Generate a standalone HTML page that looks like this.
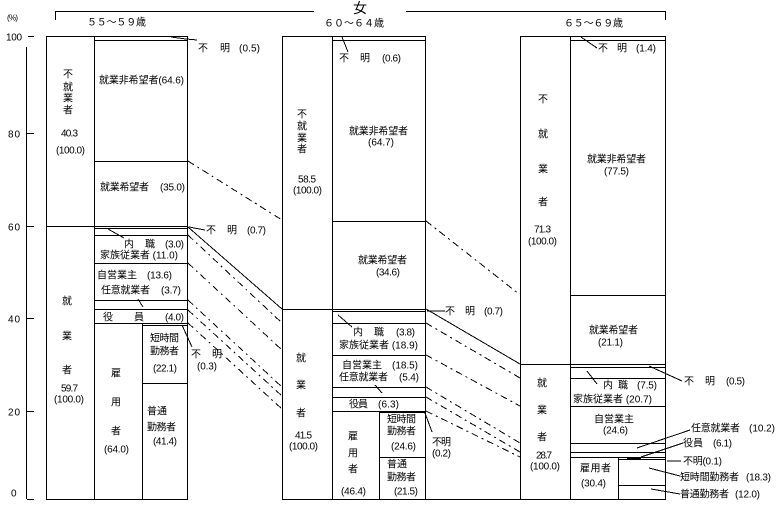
<!DOCTYPE html>
<html lang="ja"><head><meta charset="utf-8"><title>女 就業状態</title>
<style>
html,body{margin:0;padding:0;background:#fff}
svg{display:block}
text{font-family:"Liberation Sans","WenQuanYi Zen Hei","Noto Sans CJK JP",sans-serif;font-size:10px;fill:#000;dominant-baseline:central}
.m{text-anchor:middle}
.s{stroke:#000;stroke-width:1;fill:none;shape-rendering:crispEdges}
.l{stroke:#000;stroke-width:1;fill:none;shape-rendering:crispEdges}
.d{stroke:#000;stroke-width:1;fill:none;stroke-dasharray:7 4 2 4;shape-rendering:crispEdges}
</style></head><body>
<svg width="779" height="508" viewBox="0 0 779 508" xmlns="http://www.w3.org/2000/svg">
<rect width="779" height="508" fill="#fff"/>
<!-- header bracket -->
<path class="s" d="M55.5 20V11.5H314M406 11.5H665.5V20"/>
<path class="s" d="M26.5 47V499M28 36.5H34M27 133.5H34M27 226.5H34M27 318.5H34M27 411.5H34M27 499.5H34"/>
<!-- bar 1 -->
<path class="s" d="M46.5 36V499.5H187.5V36.5H46.5M94.5 36V499M142.5 323V499M187.5 36V499M46 226.5H187M94 40.5H187M94 161.5H187M94 228.5H187M94 235.5H187M94 263.5H187M94 300.5H187M94 309.5H187M94 323.5H187M142 325.5H187M142 383.5H187"/>
<!-- bar 2 -->
<path class="s" d="M282.5 36V499.5H425.5V36.5H282.5M332.5 36V499M379.5 411V499M282 309.5H425M332 40.5H425M332 221.5H425M332 311.5H425M332 323.5H425M332 355.5H425M332 387.5H425M332 397.5H425M332 411.5H425M379 412.5H425M379 457.5H425"/>
<!-- bar 3 -->
<path class="s" d="M520.5 36V499.5H665.5V36.5H520.5M570.5 36V499M618.5 457V499M520 364.5H665M570 40.5H665M570 295.5H665M570 367.5H665M570 378.5H665M570 406.5H665M570 443.5H665M570 452.5H665M570 457.5H665M618 459.5H665M618 485.5H665"/>
<path class="s" style="stroke-width:2" d="M627 458.5H641"/>
<path class="s" d="M283 499.5H520"/>
<!-- connectors -->
<path class="d" d="M188 161L282 220M188 235L282 323M188 263L282 350M188 300L282 387M188 310L282 396M188 323L282 409M426 221L519 294M426 323L520 378M426 355L520 406M426 387L520 443M426 397L520 452M426 411L520 457"/>
<path class="l" d="M188 227L282 309M426 309L520 364"/>
<!-- leaders -->
<path class="l" d="M171 37L186 39L197 40M189 227L205 230M108 229L124 238M138 299L143 307M182 325L192 347M342 37L348 52M427 311L445 311M425 413L432 432M338 315L352 327M375 385L382 393M581 37L597 48M649 366L682 381M587 371L597 384M637 448L690 430M641 457L683 443M667 461L681 461M649 468L680 476M651 489L680 494"/>
<g transform="translate(0,1)">
<text x="360" y="7" class="m" style="font-size:14px">女</text>
<text x="87" y="22" textLength="59">５５～５９歳</text>
<text x="324" y="23" textLength="60">６０～６４歳</text>
<text x="564" y="23" textLength="59">６５～６９歳</text>
<text x="7" y="17" textLength="11" style="font-size:8px">(%)</text>
<text x="6" y="37" textLength="16">100</text>
<text x="8" y="134" textLength="12">80</text>
<text x="8" y="227" textLength="12">60</text>
<text x="8" y="319" textLength="12">40</text>
<text x="8" y="412" textLength="12">20</text>
<text x="11" y="493">0</text>
<!-- bar 1 text -->
<text x="68" y="74" class="m">不</text><text x="68" y="87" class="m">就</text><text x="68" y="98" class="m">業</text><text x="68" y="110" class="m">者</text>
<text x="61" y="133" textLength="17">40.3</text><text x="56" y="150" textLength="29">(100.0)</text>
<text x="99" y="80" textLength="85">就業非希望者(64.6)</text>
<text x="100" y="187" textLength="49">就業希望者</text><text x="160" y="187" textLength="25">(35.0)</text>
<text x="198" y="48">不</text><text x="220" y="48">明</text><text x="239" y="48" textLength="21">(0.5)</text>
<text x="206" y="230">不</text><text x="227" y="230">明</text><text x="247" y="230" textLength="19">(0.7)</text>
<text x="124" y="244">内</text><text x="145" y="244">職</text><text x="165" y="244" textLength="19">(3.0)</text>
<text x="100" y="255" textLength="78">家族従業者 (11.0)</text>
<text x="97" y="275" textLength="40">自営業主</text><text x="147" y="275" textLength="25">(13.6)</text>
<text x="101" y="290" textLength="49">任意就業者</text><text x="161" y="290" textLength="20">(3.7)</text>
<text x="103" y="317">役</text><text x="134" y="317">員</text><text x="165" y="317" textLength="19">(4.0)</text>
<text x="150" y="338" textLength="29">短時間</text><text x="150" y="351" textLength="29">勤務者</text><text x="153" y="368" textLength="24">(22.1)</text>
<text x="147" y="411" textLength="20">普通</text><text x="147" y="427" textLength="29">勤務者</text><text x="153" y="441" textLength="24">(41.4)</text>
<text x="67" y="301" class="m">就</text><text x="67" y="336" class="m">業</text><text x="67" y="370" class="m">者</text>
<text x="61" y="388" textLength="17">59.7</text><text x="54" y="399" textLength="30">(100.0)</text>
<text x="116" y="373" class="m">雇</text><text x="116" y="402" class="m">用</text><text x="116" y="431" class="m">者</text><text x="104" y="449" textLength="25">(64.0)</text>
<text x="191" y="354">不</text><text x="212" y="354">明</text><text x="197" y="366" textLength="20">(0.3)</text>
<!-- bar 2 text -->
<text x="302" y="114" class="m">不</text><text x="302" y="126" class="m">就</text><text x="302" y="138" class="m">業</text><text x="302" y="149" class="m">者</text>
<text x="298" y="179" textLength="18">58.5</text><text x="293" y="190" textLength="29">(100.0)</text>
<text x="339" y="58">不</text><text x="360" y="58">明</text><text x="382" y="58" textLength="19">(0.6)</text>
<text x="349" y="131" textLength="59">就業非希望者</text><text x="368" y="142" textLength="26">(64.7)</text>
<text x="358" y="260" textLength="49">就業希望者</text><text x="376" y="272" textLength="24">(34.6)</text>
<text x="445" y="311">不</text><text x="465" y="311">明</text><text x="484" y="311" textLength="19">(0.7)</text>
<text x="353" y="332">内</text><text x="374" y="332">職</text><text x="396" y="332" textLength="19">(3.8)</text>
<text x="339" y="345" textLength="79">家族従業者 (18.9)</text>
<text x="342" y="365" textLength="40">自営業主</text><text x="392" y="365" textLength="26">(18.5)</text>
<text x="339" y="377" textLength="49">任意就業者</text><text x="399" y="377" textLength="20">(5.4)</text>
<text x="349" y="404" textLength="19">役員</text><text x="378" y="404" textLength="21">(6.3)</text>
<text x="387" y="419" textLength="29">短時間</text><text x="387" y="431" textLength="29">勤務者</text><text x="391" y="446" textLength="25">(24.6)</text>
<text x="387" y="464" textLength="20">普通</text><text x="387" y="477" textLength="29">勤務者</text><text x="394" y="491" textLength="24">(21.5)</text>
<text x="353" y="436" class="m">雇</text><text x="353" y="453" class="m">用</text><text x="353" y="469" class="m">者</text><text x="341" y="491" textLength="25">(46.4)</text>
<text x="301" y="358" class="m">就</text><text x="301" y="385" class="m">業</text><text x="301" y="413" class="m">者</text>
<text x="295" y="435" textLength="17">41.5</text><text x="289" y="446" textLength="29">(100.0)</text>
<text x="432" y="442" textLength="19">不明</text><text x="432" y="453" textLength="19">(0.2)</text>
<!-- bar 3 text -->
<text x="543" y="99" class="m">不</text><text x="543" y="134" class="m">就</text><text x="543" y="169" class="m">業</text><text x="543" y="202" class="m">者</text>
<text x="534" y="229" textLength="17">71.3</text><text x="528" y="241" textLength="29">(100.0)</text>
<text x="598" y="48">不</text><text x="617" y="48">明</text><text x="636" y="48" textLength="20">(1.4)</text>
<text x="587" y="159" textLength="59">就業非希望者</text><text x="604" y="171" textLength="25">(77.5)</text>
<text x="589" y="330" textLength="49">就業希望者</text><text x="598" y="342" textLength="25">(21.1)</text>
<text x="684" y="381">不</text><text x="705" y="381">明</text><text x="726" y="381" textLength="19">(0.5)</text>
<text x="603" y="385">内</text><text x="618" y="385">職</text><text x="637" y="385" textLength="20">(7.5)</text>
<text x="573" y="399" textLength="79">家族従業者 (20.7)</text>
<text x="594" y="419" textLength="40">自営業主</text><text x="603" y="430" textLength="25">(24.6)</text>
<text x="691" y="428" textLength="49">任意就業者</text><text x="749" y="428" textLength="26">(10.2)</text>
<text x="683" y="443" textLength="20">役員</text><text x="713" y="443" textLength="19">(6.1)</text>
<text x="683" y="461" textLength="39">不明(0.1)</text>
<text x="680" y="477" textLength="59">短時間勤務者</text><text x="746" y="477" textLength="25">(18.3)</text>
<text x="680" y="494" textLength="49">普通勤務者</text><text x="735" y="494" textLength="25">(12.0)</text>
<text x="580" y="468" textLength="31">雇用者</text><text x="581" y="483" textLength="25">(30.4)</text>
<text x="542" y="383" class="m">就</text><text x="542" y="410" class="m">業</text><text x="542" y="437" class="m">者</text>
<text x="536" y="455" textLength="16">28.7</text><text x="530" y="466" textLength="30">(100.0)</text>
</g>
</svg>
</body></html>
